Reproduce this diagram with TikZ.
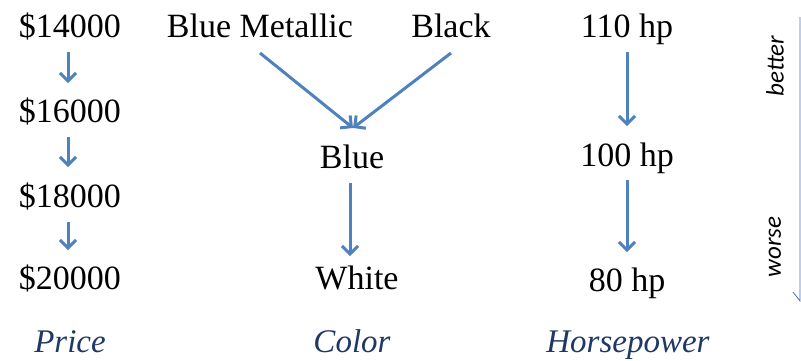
\documentclass[tikz,border=0pt]{standalone}
\usepackage{fontspec}
\setmainfont{Liberation Serif}
\newfontfamily\labelfont{Carlito}
\usetikzlibrary{arrows.meta}
\definecolor{arrowblue}{HTML}{4F81BD}
\definecolor{axisblue}{HTML}{4472C4}
\definecolor{titleblue}{HTML}{1F3864}
\tikzset{
  val/.style={font=\fontsize{34}{38}\selectfont, inner sep=0pt, anchor=base},
  title/.style={font=\fontsize{33}{36}\selectfont\itshape, text=titleblue, inner sep=0pt, anchor=base},
  side/.style={font=\labelfont\fontsize{25}{28}\selectfont\itshape, inner sep=0pt, rotate=90},
  pref/.style={draw=arrowblue, line width=3pt, -{Straight Barb[length=8pt,width=16pt,line width=3pt]}},
}
\begin{document}
\begin{tikzpicture}[x=1pt,y=-1pt]
\useasboundingbox (0,0) rectangle (801,360);
% price column
\node[val] (p1) at (70,37) {\$14000};
\node[val] (p2) at (70,122) {\$16000};
\node[val] (p3) at (70,207) {\$18000};
\node[val] (p4) at (70,289) {\$20000};
\coordinate (a1s) at (68,52); \coordinate (a1e) at (68,83);
\coordinate (a2s) at (68,137); \coordinate (a2e) at (68,167);
\coordinate (a3s) at (68,222); \coordinate (a3e) at (68,250);
\draw[pref] (a1s) -- (a1e);
\draw[pref] (a2s) -- (a2e);
\draw[pref] (a3s) -- (a3e);
% colour column
\node[val] (c1) at (260,37) {Blue Metallic};
\node[val] (c2) at (451,37) {Black};
\node[val] (c3) at (352,168) {Blue};
\node[val] (c4) at (357,289) {White};
\coordinate (b1s) at (260,53); \coordinate (b2s) at (451,53);
\coordinate (bm) at (353,128);
\coordinate (b3s) at (350,183); \coordinate (b3e) at (350,256);
\draw[pref] (b1s) -- (bm);
\draw[pref] (b2s) -- (bm);
\draw[pref] (b3s) -- (b3e);
% horsepower column
\node[val] (h1) at (627,37) {110 hp};
\node[val] (h2) at (627,166) {100 hp};
\node[val] (h3) at (627,291) {80 hp};
\coordinate (d1s) at (627,52); \coordinate (d1e) at (627,126);
\coordinate (d2s) at (627,180); \coordinate (d2e) at (627,252);
\draw[pref] (d1s) -- (d1e);
\draw[pref] (d2s) -- (d2e);
% column titles
\node[title] (t1) at (70,352) {Price};
\node[title] (t2) at (352,352) {Color};
\node[title] (t3) at (628,352) {Horsepower};
% better / worse scale
\node[side] (better) at (775,66) {better};
\node[side] (worse) at (775,247) {worse};
\coordinate (ytop) at (800,17);
\coordinate (ybot) at (800,301);
\coordinate (ybarb) at (793,292);
\draw[axisblue, line width=0.8pt] (ytop) -- (ybot) -- (ybarb);
\end{tikzpicture}
\end{document}
